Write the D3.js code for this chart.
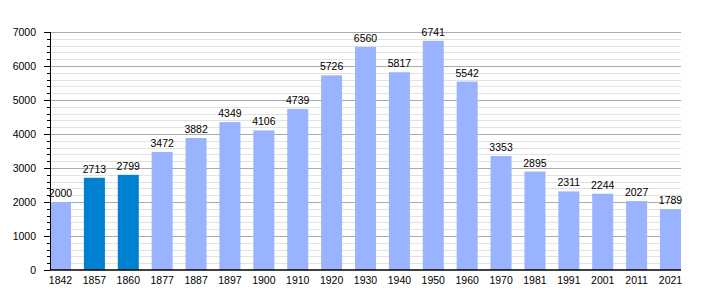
<!DOCTYPE html>
<html>
<head>
<meta charset="utf-8">
<script src="https://cdn.jsdelivr.net/npm/d3@7"></script>
<style>
  body { margin: 0; background: #fff; }
  text { font-family: "Liberation Sans", Arial, sans-serif; font-size: 10.5px; fill: #000; }
</style>
</head>
<body>
<svg id="chart" width="710" height="300"></svg>
<script>
// census years and population
const years = ["1842", "1857", "1860", "1877", "1887", "1897", "1900", "1910", "1920", "1930",
  "1940", "1950", "1960", "1970", "1981", "1991", "2001", "2011", "2021"];
const population = [2000, 2713, 2799, 3472, 3882, 4349, 4106, 4739, 5726, 6560,
  5817, 6741, 5542, 3353, 2895, 2311, 2244, 2027, 1789];
// years drawn in the darker blue
const highlighted = ["1857", "1860"];
const yTicks = [0, 1000, 2000, 3000, 4000, 5000, 6000, 7000];

const margin = { left: 50, right: 29, top: 32, bottom: 30 };
const width = 710, height = 300;

const svg = d3.select("#chart");

const x = d3.scaleBand()
  .domain(years)
  .range([margin.left, width - margin.right])
  .paddingInner(0.38)
  .paddingOuter(0);

const y = d3.scaleLinear()
  .domain([0, 7000])
  .range([height - margin.bottom, margin.top]);

// minor gridlines every 200
const minor = d3.range(0, 7001, 200).filter(v => v % 1000 !== 0);
svg.append("g").selectAll("line")
  .data(minor)
  .join("line")
  .attr("x1", margin.left).attr("x2", width - margin.right)
  .attr("y1", d => Math.round(y(d)) + 0.5).attr("y2", d => Math.round(y(d)) + 0.5)
  .attr("stroke", "#e2e2e2");

// major gridlines
svg.append("g").selectAll("line")
  .data(yTicks.slice(1))
  .join("line")
  .attr("x1", margin.left).attr("x2", width - margin.right)
  .attr("y1", d => Math.round(y(d)) + 0.5).attr("y2", d => Math.round(y(d)) + 0.5)
  .attr("stroke", "#aaaaaa");

// bars
svg.append("g").selectAll("rect")
  .data(years)
  .join("rect")
  .attr("x", d => x(d))
  .attr("width", x.bandwidth())
  .attr("y", (d, i) => y(population[i]))
  .attr("height", (d, i) => y(0) - y(population[i]))
  .attr("fill", d => highlighted.includes(d) ? "#0080d0" : "#99b3ff");

// value labels
svg.append("g").selectAll("text")
  .data(years)
  .join("text")
  .attr("x", d => x(d) + x.bandwidth() / 2)
  .attr("y", (d, i) => y(population[i]) - 5)
  .attr("text-anchor", "middle")
  .text((d, i) => population[i]);

// y axis with minor ticks
const yAxis = svg.append("g")
  .attr("transform", `translate(${margin.left},0)`)
  .call(d3.axisLeft(y).tickValues(yTicks).tickSize(6).tickPadding(8).tickFormat(d3.format("d")));
yAxis.select(".domain").attr("stroke", "#000").attr("d", `M0.5,${y(7000)}V${y(0)}`);
yAxis.selectAll(".tick line").attr("stroke", "#000");
yAxis.append("g").selectAll("line")
  .data(minor)
  .join("line")
  .attr("x1", -3).attr("x2", 0)
  .attr("y1", d => Math.round(y(d)) + 0.5).attr("y2", d => Math.round(y(d)) + 0.5)
  .attr("stroke", "#000");

// x axis
const xAxis = svg.append("g")
  .attr("transform", `translate(0,${y(0)})`)
  .call(d3.axisBottom(x).tickSize(0).tickPadding(7));
xAxis.select(".domain").attr("stroke", "#000").attr("stroke-width", 1.5)
  .attr("d", `M${margin.left},0H${width - margin.right}`);

svg.selectAll(".tick text").style("font-family", "'Liberation Sans', Arial, sans-serif").style("font-size", "10.5px");
</script>
</body>
</html>
